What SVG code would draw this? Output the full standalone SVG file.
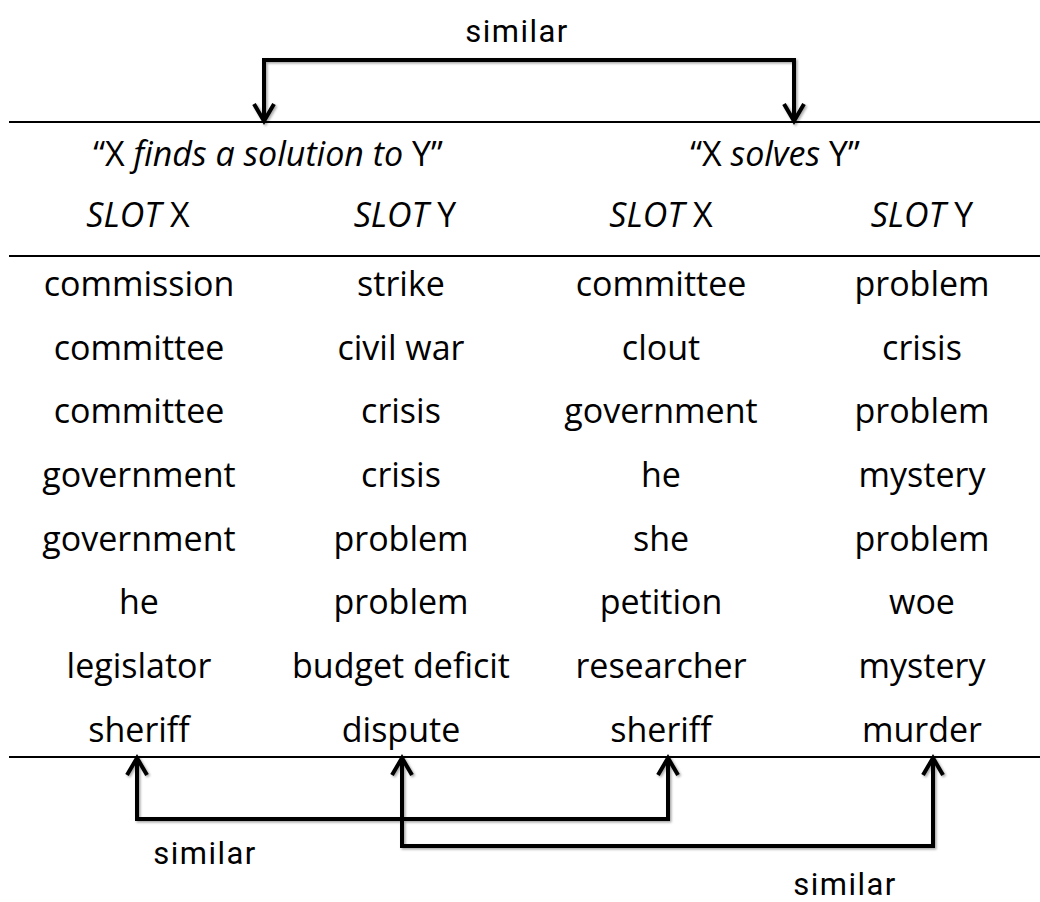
<svg xmlns="http://www.w3.org/2000/svg" width="1040" height="902" viewBox="0 0 1040 902">
  <style>
    .cell { font-family: "Open Sans", "Liberation Sans", sans-serif; font-size: 34px; fill: #000; text-anchor: middle; }
    .it { font-style: italic; }
    .lbl { font-family: Roboto, "Liberation Sans", sans-serif; font-size: 31px; letter-spacing: 1.5px; fill: #000; text-anchor: middle; }
    .rule { stroke: #000; stroke-width: 2; }
    .conn { fill: none; stroke: #000; stroke-width: 4; stroke-linejoin: miter; marker-start: url(#chev); marker-end: url(#chev); }
  </style>
  <defs>
    <marker id="chev" markerUnits="userSpaceOnUse" viewBox="-24 -16 30 32" refX="0" refY="0" markerWidth="30" markerHeight="32" orient="auto-start-reverse">
      <path d="M -17 -10 L 0 0 L -17 10" fill="none" stroke="#000" stroke-width="4" stroke-linejoin="miter"/>
    </marker>
    <filter id="shade" x="-5%" y="-5%" width="110%" height="120%">
      <feDropShadow dx="1.5" dy="1.5" stdDeviation="1" flood-color="#000" flood-opacity="0.35"/>
    </filter>
  </defs>

  <rect width="1040" height="902" fill="#fff"/>

  <!-- table rules -->
  <g id="rules">
    <line class="rule" x1="9" y1="122" x2="1040" y2="122"/>
    <line class="rule" x1="9" y1="256" x2="1040" y2="256"/>
    <line class="rule" x1="9" y1="757" x2="1040" y2="757"/>
  </g>

  <!-- pattern headers -->
  <g id="pattern-finds">
    <text class="cell" x="268" y="166">“X <tspan class="it">finds a solution to</tspan> Y”</text>
    <text class="cell" x="138" y="227"><tspan class="it">SLOT</tspan> X</text>
    <text class="cell" x="405" y="227"><tspan class="it">SLOT</tspan> Y</text>
  </g>
  <g id="pattern-solves">
    <text class="cell" x="775" y="166">“X <tspan class="it">solves</tspan> Y”</text>
    <text class="cell" x="661" y="227"><tspan class="it">SLOT</tspan> X</text>
    <text class="cell" x="922" y="227"><tspan class="it">SLOT</tspan> Y</text>
  </g>

  <!-- slot fillers -->
  <g id="col-finds-x">
    <text class="cell" x="139" y="296">commission</text>
    <text class="cell" x="139" y="360">committee</text>
    <text class="cell" x="139" y="423">committee</text>
    <text class="cell" x="139" y="487">government</text>
    <text class="cell" x="139" y="551">government</text>
    <text class="cell" x="139" y="614">he</text>
    <text class="cell" x="139" y="678">legislator</text>
    <text class="cell" x="139" y="742">sheriff</text>
  </g>
  <g id="col-finds-y">
    <text class="cell" x="401" y="296">strike</text>
    <text class="cell" x="401" y="360">civil war</text>
    <text class="cell" x="401" y="423">crisis</text>
    <text class="cell" x="401" y="487">crisis</text>
    <text class="cell" x="401" y="551">problem</text>
    <text class="cell" x="401" y="614">problem</text>
    <text class="cell" x="401" y="678">budget deficit</text>
    <text class="cell" x="401" y="742">dispute</text>
  </g>
  <g id="col-solves-x">
    <text class="cell" x="661" y="296">committee</text>
    <text class="cell" x="661" y="360">clout</text>
    <text class="cell" x="661" y="423">government</text>
    <text class="cell" x="661" y="487">he</text>
    <text class="cell" x="661" y="551">she</text>
    <text class="cell" x="661" y="614">petition</text>
    <text class="cell" x="661" y="678">researcher</text>
    <text class="cell" x="661" y="742">sheriff</text>
  </g>
  <g id="col-solves-y">
    <text class="cell" x="922" y="296">problem</text>
    <text class="cell" x="922" y="360">crisis</text>
    <text class="cell" x="922" y="423">problem</text>
    <text class="cell" x="922" y="487">mystery</text>
    <text class="cell" x="922" y="551">problem</text>
    <text class="cell" x="922" y="614">woe</text>
    <text class="cell" x="922" y="678">mystery</text>
    <text class="cell" x="922" y="742">murder</text>
  </g>

  <!-- similarity links -->
  <g id="connectors" filter="url(#shade)">
    <path class="conn" d="M264 121 V60 H794 V121"/>
    <path class="conn" d="M137 758 V819 H668 V758"/>
    <path class="conn" d="M402 758 V846 H933 V758"/>
  </g>

  <g id="labels">
    <text class="lbl" x="517" y="42">similar</text>
    <text class="lbl" x="205" y="864">similar</text>
    <text class="lbl" x="845" y="895">similar</text>
  </g>
</svg>
